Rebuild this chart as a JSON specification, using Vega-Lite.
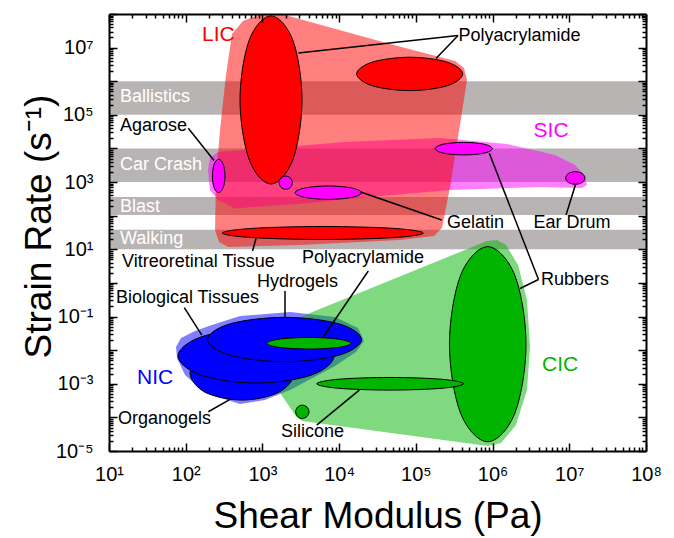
{
  "$schema": "https://vega.github.io/schema/vega-lite/v6.json",
  "width": 537,
  "height": 437,
  "autosize": {"type": "none"},
  "padding": {"left": 109, "top": 14, "right": 28, "bottom": 87},
  "background": "white",
  "config": {"view": {"stroke": null}, "font": "Liberation Sans"},
  "datasets": {
    "bands": [
      {"band": "Ballistics", "low": 1e5, "high": 1e6},
      {"band": "Car Crash", "low": 1e3, "high": 1e4},
      {"band": "Blast", "low": 105, "high": 360},
      {"band": "Walking", "low": 10, "high": 38}
    ],
    "regions": [
      {"class": "SIC", "k": 1, "modulus": 195, "rate": 2290},
      {"class": "SIC", "k": 2, "modulus": 207, "rate": 5220},
      {"class": "SIC", "k": 3, "modulus": 264, "rate": 7870},
      {"class": "SIC", "k": 4, "modulus": 930, "rate": 9660},
      {"class": "SIC", "k": 5, "modulus": 11900, "rate": 15600},
      {"class": "SIC", "k": 6, "modulus": 207000, "rate": 20500},
      {"class": "SIC", "k": 7, "modulus": 1540000, "rate": 13600},
      {"class": "SIC", "k": 8, "modulus": 6520000, "rate": 6410},
      {"class": "SIC", "k": 9, "modulus": 11900000, "rate": 3230},
      {"class": "SIC", "k": 10, "modulus": 16000000, "rate": 1520},
      {"class": "SIC", "k": 11, "modulus": 17000000, "rate": 820},
      {"class": "SIC", "k": 12, "modulus": 14700000, "rate": 667},
      {"class": "SIC", "k": 13, "modulus": 4150000, "rate": 715},
      {"class": "SIC", "k": 14, "modulus": 279000, "rate": 582},
      {"class": "SIC", "k": 15, "modulus": 13900, "rate": 321},
      {"class": "SIC", "k": 16, "modulus": 3090, "rate": 228},
      {"class": "SIC", "k": 17, "modulus": 439, "rate": 165},
      {"class": "SIC", "k": 18, "modulus": 264, "rate": 293},
      {"class": "SIC", "k": 19, "modulus": 207, "rate": 582},
      {"class": "LIC", "k": 1, "modulus": 401, "rate": 2.56e7},
      {"class": "LIC", "k": 2, "modulus": 558, "rate": 6.23e7},
      {"class": "LIC", "k": 3, "modulus": 876, "rate": 9.4e7},
      {"class": "LIC", "k": 4, "modulus": 1970, "rate": 9.4e7},
      {"class": "LIC", "k": 5, "modulus": 46000, "rate": 1.29e7},
      {"class": "LIC", "k": 6, "modulus": 324000, "rate": 4.02e6},
      {"class": "LIC", "k": 7, "modulus": 424000, "rate": 2.49e6},
      {"class": "LIC", "k": 8, "modulus": 464000, "rate": 1.09e6},
      {"class": "LIC", "k": 9, "modulus": 376000, "rate": 50000},
      {"class": "LIC", "k": 10, "modulus": 279000, "rate": 715},
      {"class": "LIC", "k": 11, "modulus": 219000, "rate": 43},
      {"class": "LIC", "k": 12, "modulus": 172000, "rate": 24.9},
      {"class": "LIC", "k": 13, "modulus": 62200, "rate": 18.9},
      {"class": "LIC", "k": 14, "modulus": 3090, "rate": 13.4},
      {"class": "LIC", "k": 15, "modulus": 356, "rate": 11.7},
      {"class": "LIC", "k": 16, "modulus": 272, "rate": 16.5},
      {"class": "LIC", "k": 17, "modulus": 241, "rate": 37.5},
      {"class": "LIC", "k": 18, "modulus": 248, "rate": 1150},
      {"class": "LIC", "k": 19, "modulus": 280, "rate": 35500},
      {"class": "LIC", "k": 20, "modulus": 335, "rate": 1.54e6},
      {"class": "NIC", "k": 1, "modulus": 74.7, "rate": 0.01237},
      {"class": "NIC", "k": 2, "modulus": 86.8, "rate": 0.0229},
      {"class": "NIC", "k": 3, "modulus": 132, "rate": 0.037},
      {"class": "NIC", "k": 4, "modulus": 220, "rate": 0.0558},
      {"class": "NIC", "k": 5, "modulus": 510, "rate": 0.1035},
      {"class": "NIC", "k": 6, "modulus": 2290, "rate": 0.136},
      {"class": "NIC", "k": 7, "modulus": 8840, "rate": 0.0966},
      {"class": "NIC", "k": 8, "modulus": 17600, "rate": 0.0455},
      {"class": "NIC", "k": 9, "modulus": 21100, "rate": 0.01866},
      {"class": "NIC", "k": 10, "modulus": 16600, "rate": 0.00878},
      {"class": "NIC", "k": 11, "modulus": 8840, "rate": 0.00336},
      {"class": "NIC", "k": 12, "modulus": 2290, "rate": 0.000649},
      {"class": "NIC", "k": 13, "modulus": 1080, "rate": 0.000327},
      {"class": "NIC", "k": 14, "modulus": 510, "rate": 0.000249},
      {"class": "NIC", "k": 15, "modulus": 178, "rate": 0.000529},
      {"class": "NIC", "k": 16, "modulus": 97.9, "rate": 0.00182},
      {"class": "NIC", "k": 17, "modulus": 77, "rate": 0.00582},
      {"class": "CIC", "k": 1, "modulus": 987, "rate": 0.0281},
      {"class": "CIC", "k": 2, "modulus": 4170, "rate": 0.1271},
      {"class": "CIC", "k": 3, "modulus": 847000, "rate": 17.7},
      {"class": "CIC", "k": 4, "modulus": 1140000, "rate": 18.9},
      {"class": "CIC", "k": 5, "modulus": 1500000, "rate": 13.4},
      {"class": "CIC", "k": 6, "modulus": 2150000, "rate": 3.41},
      {"class": "CIC", "k": 7, "modulus": 2810000, "rate": 0.31},
      {"class": "CIC", "k": 8, "modulus": 3080000, "rate": 0.01263},
      {"class": "CIC", "k": 9, "modulus": 2810000, "rate": 0.000649},
      {"class": "CIC", "k": 10, "modulus": 2020000, "rate": 5.9e-5},
      {"class": "CIC", "k": 11, "modulus": 1290000, "rate": 1.72e-5},
      {"class": "CIC", "k": 12, "modulus": 872000, "rate": 1.4e-5},
      {"class": "CIC", "k": 13, "modulus": 3280, "rate": 7.76e-5},
      {"class": "CIC", "k": 14, "modulus": 2740, "rate": 0.000109},
      {"class": "CIC", "k": 15, "modulus": 1700, "rate": 0.000529}
    ],
    "ellipses": [
      {"id": "E01", "class": "LIC", "material": "Polyacrylamide", "k": 0, "modulus": 3280, "rate": 278000},
      {"id": "E01", "class": "LIC", "material": "Polyacrylamide", "k": 1, "modulus": 2500, "rate": 1.63e7},
      {"id": "E01", "class": "LIC", "material": "Polyacrylamide", "k": 2, "modulus": 1290, "rate": 8.77e7},
      {"id": "E01", "class": "LIC", "material": "Polyacrylamide", "k": 3, "modulus": 670, "rate": 1.63e7},
      {"id": "E01", "class": "LIC", "material": "Polyacrylamide", "k": 4, "modulus": 510, "rate": 278000},
      {"id": "E01", "class": "LIC", "material": "Polyacrylamide", "k": 5, "modulus": 670, "rate": 4740},
      {"id": "E01", "class": "LIC", "material": "Polyacrylamide", "k": 6, "modulus": 1290, "rate": 878},
      {"id": "E01", "class": "LIC", "material": "Polyacrylamide", "k": 7, "modulus": 2500, "rate": 4740},
      {"id": "E02", "class": "LIC", "material": "Polyacrylamide", "k": 0, "modulus": 408000, "rate": 1.65e6},
      {"id": "E02", "class": "LIC", "material": "Polyacrylamide", "k": 1, "modulus": 256000, "rate": 3.7e6},
      {"id": "E02", "class": "LIC", "material": "Polyacrylamide", "k": 2, "modulus": 83200, "rate": 5.18e6},
      {"id": "E02", "class": "LIC", "material": "Polyacrylamide", "k": 3, "modulus": 27000, "rate": 3.7e6},
      {"id": "E02", "class": "LIC", "material": "Polyacrylamide", "k": 4, "modulus": 16900, "rate": 1.65e6},
      {"id": "E02", "class": "LIC", "material": "Polyacrylamide", "k": 5, "modulus": 27000, "rate": 735000},
      {"id": "E02", "class": "LIC", "material": "Polyacrylamide", "k": 6, "modulus": 83200, "rate": 525000},
      {"id": "E02", "class": "LIC", "material": "Polyacrylamide", "k": 7, "modulus": 256000, "rate": 735000},
      {"id": "E03", "class": "LIC", "material": "Vitreoretinal Tissue", "k": 0, "modulus": 125000, "rate": 30.5},
      {"id": "E03", "class": "LIC", "material": "Vitreoretinal Tissue", "k": 1, "modulus": 51800, "rate": 41.9},
      {"id": "E03", "class": "LIC", "material": "Vitreoretinal Tissue", "k": 2, "modulus": 6120, "rate": 47.7},
      {"id": "E03", "class": "LIC", "material": "Vitreoretinal Tissue", "k": 3, "modulus": 725, "rate": 41.9},
      {"id": "E03", "class": "LIC", "material": "Vitreoretinal Tissue", "k": 4, "modulus": 300, "rate": 30.5},
      {"id": "E03", "class": "LIC", "material": "Vitreoretinal Tissue", "k": 5, "modulus": 725, "rate": 22.3},
      {"id": "E03", "class": "LIC", "material": "Vitreoretinal Tissue", "k": 6, "modulus": 6120, "rate": 19.6},
      {"id": "E03", "class": "LIC", "material": "Vitreoretinal Tissue", "k": 7, "modulus": 51800, "rate": 22.3},
      {"id": "E04", "class": "SIC", "material": "Agarose", "k": 0, "modulus": 325, "rate": 1520},
      {"id": "E04", "class": "SIC", "material": "Agarose", "k": 1, "modulus": 308, "rate": 3410},
      {"id": "E04", "class": "SIC", "material": "Agarose", "k": 2, "modulus": 269, "rate": 4770},
      {"id": "E04", "class": "SIC", "material": "Agarose", "k": 3, "modulus": 235, "rate": 3410},
      {"id": "E04", "class": "SIC", "material": "Agarose", "k": 4, "modulus": 223, "rate": 1520},
      {"id": "E04", "class": "SIC", "material": "Agarose", "k": 5, "modulus": 235, "rate": 677},
      {"id": "E04", "class": "SIC", "material": "Agarose", "k": 6, "modulus": 269, "rate": 484},
      {"id": "E04", "class": "SIC", "material": "Agarose", "k": 7, "modulus": 308, "rate": 677},
      {"id": "E05", "class": "SIC", "material": "Unlabelled", "k": 0, "modulus": 2450, "rate": 960},
      {"id": "E05", "class": "SIC", "material": "Unlabelled", "k": 1, "modulus": 2320, "rate": 1320},
      {"id": "E05", "class": "SIC", "material": "Unlabelled", "k": 2, "modulus": 2010, "rate": 1510},
      {"id": "E05", "class": "SIC", "material": "Unlabelled", "k": 3, "modulus": 1750, "rate": 1320},
      {"id": "E05", "class": "SIC", "material": "Unlabelled", "k": 4, "modulus": 1650, "rate": 960},
      {"id": "E05", "class": "SIC", "material": "Unlabelled", "k": 5, "modulus": 1750, "rate": 696},
      {"id": "E05", "class": "SIC", "material": "Unlabelled", "k": 6, "modulus": 2010, "rate": 611},
      {"id": "E05", "class": "SIC", "material": "Unlabelled", "k": 7, "modulus": 2320, "rate": 696},
      {"id": "E06", "class": "SIC", "material": "Gelatin", "k": 0, "modulus": 19600, "rate": 484},
      {"id": "E06", "class": "SIC", "material": "Gelatin", "k": 1, "modulus": 14600, "rate": 667},
      {"id": "E06", "class": "SIC", "material": "Gelatin", "k": 2, "modulus": 7220, "rate": 766},
      {"id": "E06", "class": "SIC", "material": "Gelatin", "k": 3, "modulus": 3570, "rate": 667},
      {"id": "E06", "class": "SIC", "material": "Gelatin", "k": 4, "modulus": 2660, "rate": 484},
      {"id": "E06", "class": "SIC", "material": "Gelatin", "k": 5, "modulus": 3570, "rate": 350},
      {"id": "E06", "class": "SIC", "material": "Gelatin", "k": 6, "modulus": 7220, "rate": 306},
      {"id": "E06", "class": "SIC", "material": "Gelatin", "k": 7, "modulus": 14600, "rate": 350},
      {"id": "E07", "class": "SIC", "material": "Rubbers", "k": 0, "modulus": 995000, "rate": 9860},
      {"id": "E07", "class": "SIC", "material": "Rubbers", "k": 1, "modulus": 774000, "rate": 13400},
      {"id": "E07", "class": "SIC", "material": "Rubbers", "k": 2, "modulus": 421000, "rate": 15200},
      {"id": "E07", "class": "SIC", "material": "Rubbers", "k": 3, "modulus": 229000, "rate": 13400},
      {"id": "E07", "class": "SIC", "material": "Rubbers", "k": 4, "modulus": 178000, "rate": 9860},
      {"id": "E07", "class": "SIC", "material": "Rubbers", "k": 5, "modulus": 229000, "rate": 7250},
      {"id": "E07", "class": "SIC", "material": "Rubbers", "k": 6, "modulus": 421000, "rate": 6410},
      {"id": "E07", "class": "SIC", "material": "Rubbers", "k": 7, "modulus": 774000, "rate": 7250},
      {"id": "E08", "class": "SIC", "material": "Ear Drum", "k": 0, "modulus": 1.6e7, "rate": 1320},
      {"id": "E08", "class": "SIC", "material": "Ear Drum", "k": 1, "modulus": 1.47e7, "rate": 1800},
      {"id": "E08", "class": "SIC", "material": "Ear Drum", "k": 2, "modulus": 1.2e7, "rate": 2040},
      {"id": "E08", "class": "SIC", "material": "Ear Drum", "k": 3, "modulus": 9.74e6, "rate": 1800},
      {"id": "E08", "class": "SIC", "material": "Ear Drum", "k": 4, "modulus": 8.96e6, "rate": 1320},
      {"id": "E08", "class": "SIC", "material": "Ear Drum", "k": 5, "modulus": 9.74e6, "rate": 973},
      {"id": "E08", "class": "SIC", "material": "Ear Drum", "k": 6, "modulus": 1.2e7, "rate": 860},
      {"id": "E08", "class": "SIC", "material": "Ear Drum", "k": 7, "modulus": 1.47e7, "rate": 973},
      {"id": "E09", "class": "NIC", "material": "Organogels", "k": 0, "modulus": 2580, "rate": 0.00208},
      {"id": "E09", "class": "NIC", "material": "Organogels", "k": 1, "modulus": 1640, "rate": 0.0077},
      {"id": "E09", "class": "NIC", "material": "Organogels", "k": 2, "modulus": 542, "rate": 0.01324},
      {"id": "E09", "class": "NIC", "material": "Organogels", "k": 3, "modulus": 179, "rate": 0.0077},
      {"id": "E09", "class": "NIC", "material": "Organogels", "k": 4, "modulus": 114, "rate": 0.00208},
      {"id": "E09", "class": "NIC", "material": "Organogels", "k": 5, "modulus": 179, "rate": 0.000562},
      {"id": "E09", "class": "NIC", "material": "Organogels", "k": 6, "modulus": 542, "rate": 0.000327},
      {"id": "E09", "class": "NIC", "material": "Organogels", "k": 7, "modulus": 1640, "rate": 0.000562},
      {"id": "E10", "class": "NIC", "material": "Biological Tissues", "k": 0, "modulus": 8570, "rate": 0.00668},
      {"id": "E10", "class": "NIC", "material": "Biological Tissues", "k": 1, "modulus": 4310, "rate": 0.0247},
      {"id": "E10", "class": "NIC", "material": "Biological Tissues", "k": 2, "modulus": 825, "rate": 0.0425},
      {"id": "E10", "class": "NIC", "material": "Biological Tissues", "k": 3, "modulus": 158, "rate": 0.0247},
      {"id": "E10", "class": "NIC", "material": "Biological Tissues", "k": 4, "modulus": 79.3, "rate": 0.00668},
      {"id": "E10", "class": "NIC", "material": "Biological Tissues", "k": 5, "modulus": 158, "rate": 0.0018},
      {"id": "E10", "class": "NIC", "material": "Biological Tissues", "k": 6, "modulus": 825, "rate": 0.00105},
      {"id": "E10", "class": "NIC", "material": "Biological Tissues", "k": 7, "modulus": 4310, "rate": 0.0018},
      {"id": "E11", "class": "NIC", "material": "Hydrogels", "k": 0, "modulus": 19600, "rate": 0.0207},
      {"id": "E11", "class": "NIC", "material": "Hydrogels", "k": 1, "modulus": 9930, "rate": 0.0607},
      {"id": "E11", "class": "NIC", "material": "Hydrogels", "k": 2, "modulus": 1940, "rate": 0.0947},
      {"id": "E11", "class": "NIC", "material": "Hydrogels", "k": 3, "modulus": 379, "rate": 0.0607},
      {"id": "E11", "class": "NIC", "material": "Hydrogels", "k": 4, "modulus": 192, "rate": 0.0207},
      {"id": "E11", "class": "NIC", "material": "Hydrogels", "k": 5, "modulus": 379, "rate": 0.00705},
      {"id": "E11", "class": "NIC", "material": "Hydrogels", "k": 6, "modulus": 1940, "rate": 0.00452},
      {"id": "E11", "class": "NIC", "material": "Hydrogels", "k": 7, "modulus": 9930, "rate": 0.00705},
      {"id": "E12", "class": "CIC", "material": "Rubbers", "k": 0, "modulus": 2.73e6, "rate": 0.01498},
      {"id": "E12", "class": "CIC", "material": "Rubbers", "k": 1, "modulus": 1.95e6, "rate": 1.68},
      {"id": "E12", "class": "CIC", "material": "Rubbers", "k": 2, "modulus": 865000, "rate": 11.95},
      {"id": "E12", "class": "CIC", "material": "Rubbers", "k": 3, "modulus": 383000, "rate": 1.68},
      {"id": "E12", "class": "CIC", "material": "Rubbers", "k": 4, "modulus": 274000, "rate": 0.01498},
      {"id": "E12", "class": "CIC", "material": "Rubbers", "k": 5, "modulus": 383000, "rate": 0.000133},
      {"id": "E12", "class": "CIC", "material": "Rubbers", "k": 6, "modulus": 865000, "rate": 1.88e-5},
      {"id": "E12", "class": "CIC", "material": "Rubbers", "k": 7, "modulus": 1.95e6, "rate": 0.000133},
      {"id": "E13", "class": "CIC", "material": "Silicone", "k": 0, "modulus": 416000, "rate": 0.001},
      {"id": "E13", "class": "CIC", "material": "Silicone", "k": 1, "modulus": 218000, "rate": 0.00136},
      {"id": "E13", "class": "CIC", "material": "Silicone", "k": 2, "modulus": 46000, "rate": 0.00154},
      {"id": "E13", "class": "CIC", "material": "Silicone", "k": 3, "modulus": 9720, "rate": 0.00136},
      {"id": "E13", "class": "CIC", "material": "Silicone", "k": 4, "modulus": 5100, "rate": 0.001},
      {"id": "E13", "class": "CIC", "material": "Silicone", "k": 5, "modulus": 9720, "rate": 0.000735},
      {"id": "E13", "class": "CIC", "material": "Silicone", "k": 6, "modulus": 46000, "rate": 0.000649},
      {"id": "E13", "class": "CIC", "material": "Silicone", "k": 7, "modulus": 218000, "rate": 0.000735},
      {"id": "E14", "class": "CIC", "material": "Silicone", "k": 0, "modulus": 4050, "rate": 0.000147},
      {"id": "E14", "class": "CIC", "material": "Silicone", "k": 1, "modulus": 3810, "rate": 0.000202},
      {"id": "E14", "class": "CIC", "material": "Silicone", "k": 2, "modulus": 3310, "rate": 0.000232},
      {"id": "E14", "class": "CIC", "material": "Silicone", "k": 3, "modulus": 2870, "rate": 0.000202},
      {"id": "E14", "class": "CIC", "material": "Silicone", "k": 4, "modulus": 2710, "rate": 0.000147},
      {"id": "E14", "class": "CIC", "material": "Silicone", "k": 5, "modulus": 2870, "rate": 0.000106},
      {"id": "E14", "class": "CIC", "material": "Silicone", "k": 6, "modulus": 3310, "rate": 9.27e-5},
      {"id": "E14", "class": "CIC", "material": "Silicone", "k": 7, "modulus": 3810, "rate": 0.000106},
      {"id": "E15", "class": "CIC", "material": "Polyacrylamide", "k": 0, "modulus": 14200, "rate": 0.01605},
      {"id": "E15", "class": "CIC", "material": "Polyacrylamide", "k": 1, "modulus": 9780, "rate": 0.02126},
      {"id": "E15", "class": "CIC", "material": "Polyacrylamide", "k": 2, "modulus": 4010, "rate": 0.0239},
      {"id": "E15", "class": "CIC", "material": "Polyacrylamide", "k": 3, "modulus": 1640, "rate": 0.02126},
      {"id": "E15", "class": "CIC", "material": "Polyacrylamide", "k": 4, "modulus": 1140, "rate": 0.01605},
      {"id": "E15", "class": "CIC", "material": "Polyacrylamide", "k": 5, "modulus": 1640, "rate": 0.01212},
      {"id": "E15", "class": "CIC", "material": "Polyacrylamide", "k": 6, "modulus": 4010, "rate": 0.01079},
      {"id": "E15", "class": "CIC", "material": "Polyacrylamide", "k": 7, "modulus": 9780, "rate": 0.01212}
    ],
    "leaders": [
      {"label": "Polyacrylamide", "modulus": 2940, "rate": 6.96e6, "modulus2": 355000, "rate2": 2.31e7},
      {"label": "Polyacrylamide", "modulus": 355000, "rate": 2.31e7, "modulus2": 183000, "rate2": 4.71e6},
      {"label": "Agarose", "modulus": 108, "rate": 39900, "modulus2": 234, "rate2": 4390},
      {"label": "Gelatin", "modulus": 217000, "rate": 74.5, "modulus2": 18700, "rate2": 518},
      {"label": "Ear Drum", "modulus": 9.07e6, "rate": 105, "modulus2": 1.2e7, "rate2": 820},
      {"label": "Rubbers", "modulus": 907000, "rate": 7200, "modulus2": 3.97e6, "rate2": 1.26},
      {"label": "Rubbers", "modulus": 3.97e6, "rate": 1.26, "modulus2": 2.28e6, "rate2": 0.681},
      {"label": "Vitreoretinal Tissue", "modulus": 825, "rate": 20.96, "modulus2": 743, "rate2": 8.9},
      {"label": "Polyacrylamide", "modulus": 24000, "rate": 2.26, "modulus2": 6110, "rate2": 0.0234},
      {"label": "Hydrogels", "modulus": 1970, "rate": 0.574, "modulus2": 1970, "rate2": 0.0947},
      {"label": "Biological Tissues", "modulus": 95.9, "rate": 0.183, "modulus2": 162, "rate2": 0.0281},
      {"label": "Organogels", "modulus": 197, "rate": 0.000147, "modulus2": 378, "rate2": 0.000343},
      {"label": "Silicone", "modulus": 5100, "rate": 5.9e-5, "modulus2": 18300, "rate2": 0.000649}
    ],
    "labels": [
      {"label": "Polyacrylamide", "modulus": 360000, "rate": 1.62e7},
      {"label": "Agarose", "modulus": 13.9, "rate": 33900},
      {"label": "Gelatin", "modulus": 255000, "rate": 42.2},
      {"label": "Ear Drum", "modulus": 3.42e6, "rate": 42.2},
      {"label": "Rubbers", "modulus": 4.28e6, "rate": 0.866},
      {"label": "Vitreoretinal Tissue", "modulus": 14.8, "rate": 3.03},
      {"label": "Polyacrylamide", "modulus": 3280, "rate": 3.83},
      {"label": "Hydrogels", "modulus": 850, "rate": 0.771},
      {"label": "Biological Tissues", "modulus": 12.3, "rate": 0.247},
      {"label": "Organogels", "modulus": 13.1, "rate": 6.19e-5},
      {"label": "Silicone", "modulus": 1750, "rate": 2.54e-5}
    ],
    "bandLabels": [
      {"label": "Ballistics", "modulus": 13.9, "rate": 247000},
      {"label": "Car Crash", "modulus": 13.9, "rate": 2290},
      {"label": "Blast", "modulus": 13.9, "rate": 131.5},
      {"label": "Walking", "modulus": 13.9, "rate": 14.4}
    ],
    "classLabels": [
      {"class": "LIC", "modulus": 163, "rate": 1.55e7},
      {"class": "SIC", "modulus": 3.42e6, "rate": 21500},
      {"class": "NIC", "modulus": 23.2, "rate": 0.00098},
      {"class": "CIC", "modulus": 4.41e6, "rate": 0.00244}
    ]
  },
  "resolve": {"axis": {"x": "independent", "y": "independent"}},
  "layer": [
    {
      "data": {"name": "bands"},
      "mark": {"type": "rect", "color": "#b9b4b4"},
      "encoding": {
        "y": {"field": "low", "type": "quantitative", "scale": {"type": "log", "domain": [1e-5, 1e8], "nice": false}, "axis": null},
        "y2": {"field": "high"}
      }
    },
    {
      "data": {"name": "regions"},
      "mark": {"type": "line", "interpolate": "linear-closed", "filled": true, "fillOpacity": 0.5, "strokeWidth": 0, "strokeOpacity": 0},
      "encoding": {
        "x": {
          "field": "modulus", "type": "quantitative",
          "scale": {"type": "log", "domain": [10, 1e8], "nice": false},
          "axis": {
            "orient": "bottom",
            "values": [1e1,2e1,3e1,4e1,5e1,6e1,7e1,8e1,9e1,1e2,2e2,3e2,4e2,5e2,6e2,7e2,8e2,9e2,1e3,2e3,3e3,4e3,5e3,6e3,7e3,8e3,9e3,1e4,2e4,3e4,4e4,5e4,6e4,7e4,8e4,9e4,1e5,2e5,3e5,4e5,5e5,6e5,7e5,8e5,9e5,1e6,2e6,3e6,4e6,5e6,6e6,7e6,8e6,9e6,1e7,2e7,3e7,4e7,5e7,6e7,7e7,8e7,9e7,1e8],
            "labelExpr": "abs(log(datum.value)/LN10 - round(log(datum.value)/LN10)) < 0.01 ? '10' + ['⁰','¹','²','³','⁴','⁵','⁶','⁷','⁸','⁹'][round(log(datum.value)/LN10)] : ''",
            "tickSize": {"condition": {"test": "abs(log(datum.value)/LN10 - round(log(datum.value)/LN10)) < 0.01", "value": -8}, "value": -4},
            "tickColor": "black", "tickWidth": 1.5,
            "domainColor": "black", "domainWidth": 2,
            "labelFont": "Liberation Sans", "labelFontSize": 20, "labelColor": "black", "labelPadding": 21,
            "labelOverlap": false, "labelFlush": false, "labelBound": false,
            "grid": false,
            "title": "Shear Modulus (Pa)", "titleFont": "Liberation Sans", "titleFontSize": 37, "titleFontWeight": "normal", "titleColor": "black",
            "titleBaseline": "alphabetic", "titleY": 76,
            "zindex": 1
          }
        },
        "y": {
          "field": "rate", "type": "quantitative",
          "scale": {"type": "log", "domain": [1e-5, 1e8], "nice": false},
          "axis": {
            "orient": "left",
            "values": [1e-5,2e-5,3e-5,4e-5,5e-5,6e-5,7e-5,8e-5,9e-5,1e-4,2e-4,3e-4,4e-4,5e-4,6e-4,7e-4,8e-4,9e-4,1e-3,2e-3,3e-3,4e-3,5e-3,6e-3,7e-3,8e-3,9e-3,1e-2,2e-2,3e-2,4e-2,5e-2,6e-2,7e-2,8e-2,9e-2,1e-1,2e-1,3e-1,4e-1,5e-1,6e-1,7e-1,8e-1,9e-1,1,2,3,4,5,6,7,8,9,1e1,2e1,3e1,4e1,5e1,6e1,7e1,8e1,9e1,1e2,2e2,3e2,4e2,5e2,6e2,7e2,8e2,9e2,1e3,2e3,3e3,4e3,5e3,6e3,7e3,8e3,9e3,1e4,2e4,3e4,4e4,5e4,6e4,7e4,8e4,9e4,1e5,2e5,3e5,4e5,5e5,6e5,7e5,8e5,9e5,1e6,2e6,3e6,4e6,5e6,6e6,7e6,8e6,9e6,1e7,2e7,3e7,4e7,5e7,6e7,7e7,8e7,9e7,1e8],
            "labelExpr": "(abs(log(datum.value)/LN10 - round(log(datum.value)/LN10)) < 0.01 && abs(round(log(datum.value)/LN10)) % 2 == 1) ? '10' + (round(log(datum.value)/LN10) < 0 ? '⁻' : '') + ['⁰','¹','²','³','⁴','⁵','⁶','⁷','⁸','⁹'][abs(round(log(datum.value)/LN10))] : ''",
            "tickSize": {"condition": {"test": "abs(log(datum.value)/LN10 - round(log(datum.value)/LN10)) < 0.01", "value": -8}, "value": -4},
            "tickColor": "black", "tickWidth": 1.5,
            "domainColor": "black", "domainWidth": 2,
            "labelFont": "Liberation Sans", "labelFontSize": 20, "labelColor": "black", "labelPadding": 24,
            "labelOverlap": false, "labelFlush": false, "labelBound": false,
            "grid": false,
            "title": "Strain Rate (s⁻¹)", "titleFont": "Liberation Sans", "titleFontSize": 37, "titleFontWeight": "normal", "titleColor": "black",
            "titleBaseline": "alphabetic", "titleAngle": 270, "titleAlign": "center", "titleX": -59, "titleY": 212,
            "zindex": 1
          }
        },
        "color": {"field": "class", "type": "nominal", "scale": {"domain": ["LIC", "SIC", "NIC", "CIC"], "range": ["#ff0000", "#ff00ff", "#0000ff", "#00b400"]}, "legend": null},
        "order": {"field": "k", "type": "quantitative"}
      }
    },
    {
      "data": {"name": "ellipses"},
      "mark": {"type": "line", "interpolate": "cardinal-closed", "filled": true, "fillOpacity": 1, "stroke": "black", "strokeWidth": 1},
      "encoding": {
        "x": {
          "field": "modulus", "type": "quantitative",
          "scale": {"type": "log", "domain": [10, 1e8], "nice": false},
          "axis": {
            "orient": "top",
            "values": [1e1,2e1,3e1,4e1,5e1,6e1,7e1,8e1,9e1,1e2,2e2,3e2,4e2,5e2,6e2,7e2,8e2,9e2,1e3,2e3,3e3,4e3,5e3,6e3,7e3,8e3,9e3,1e4,2e4,3e4,4e4,5e4,6e4,7e4,8e4,9e4,1e5,2e5,3e5,4e5,5e5,6e5,7e5,8e5,9e5,1e6,2e6,3e6,4e6,5e6,6e6,7e6,8e6,9e6,1e7,2e7,3e7,4e7,5e7,6e7,7e7,8e7,9e7,1e8],
            "labels": false,
            "tickSize": {"condition": {"test": "abs(log(datum.value)/LN10 - round(log(datum.value)/LN10)) < 0.01", "value": -8}, "value": -4},
            "tickColor": "black", "tickWidth": 1.5,
            "domainColor": "black", "domainWidth": 2,
            "grid": false, "title": null, "zindex": 1
          }
        },
        "y": {
          "field": "rate", "type": "quantitative",
          "scale": {"type": "log", "domain": [1e-5, 1e8], "nice": false},
          "axis": {
            "orient": "right",
            "values": [1e-5,2e-5,3e-5,4e-5,5e-5,6e-5,7e-5,8e-5,9e-5,1e-4,2e-4,3e-4,4e-4,5e-4,6e-4,7e-4,8e-4,9e-4,1e-3,2e-3,3e-3,4e-3,5e-3,6e-3,7e-3,8e-3,9e-3,1e-2,2e-2,3e-2,4e-2,5e-2,6e-2,7e-2,8e-2,9e-2,1e-1,2e-1,3e-1,4e-1,5e-1,6e-1,7e-1,8e-1,9e-1,1,2,3,4,5,6,7,8,9,1e1,2e1,3e1,4e1,5e1,6e1,7e1,8e1,9e1,1e2,2e2,3e2,4e2,5e2,6e2,7e2,8e2,9e2,1e3,2e3,3e3,4e3,5e3,6e3,7e3,8e3,9e3,1e4,2e4,3e4,4e4,5e4,6e4,7e4,8e4,9e4,1e5,2e5,3e5,4e5,5e5,6e5,7e5,8e5,9e5,1e6,2e6,3e6,4e6,5e6,6e6,7e6,8e6,9e6,1e7,2e7,3e7,4e7,5e7,6e7,7e7,8e7,9e7,1e8],
            "labels": false,
            "tickSize": {"condition": {"test": "abs(log(datum.value)/LN10 - round(log(datum.value)/LN10)) < 0.01", "value": -8}, "value": -4},
            "tickColor": "black", "tickWidth": 1.5,
            "domainColor": "black", "domainWidth": 2,
            "grid": false, "title": null, "zindex": 1
          }
        },
        "color": {"field": "class", "type": "nominal", "scale": {"domain": ["LIC", "SIC", "NIC", "CIC"], "range": ["#ff0000", "#ff00ff", "#0000ff", "#00b400"]}, "legend": null},
        "detail": {"field": "id", "type": "nominal"},
        "order": {"field": "k", "type": "quantitative"}
      }
    },
    {
      "data": {"name": "leaders"},
      "mark": {"type": "rule", "color": "black", "strokeWidth": 1.5},
      "encoding": {
        "x": {"field": "modulus", "type": "quantitative", "scale": {"type": "log", "domain": [10, 1e8], "nice": false}, "axis": null},
        "y": {"field": "rate", "type": "quantitative", "scale": {"type": "log", "domain": [1e-5, 1e8], "nice": false}, "axis": null},
        "x2": {"field": "modulus2"},
        "y2": {"field": "rate2"}
      }
    },
    {
      "data": {"name": "labels"},
      "mark": {"type": "text", "align": "left", "baseline": "alphabetic", "font": "Liberation Sans", "fontSize": 18, "color": "black"},
      "encoding": {
        "x": {"field": "modulus", "type": "quantitative", "scale": {"type": "log", "domain": [10, 1e8], "nice": false}, "axis": null},
        "y": {"field": "rate", "type": "quantitative", "scale": {"type": "log", "domain": [1e-5, 1e8], "nice": false}, "axis": null},
        "text": {"field": "label"}
      }
    },
    {
      "data": {"name": "bandLabels"},
      "mark": {"type": "text", "align": "left", "baseline": "alphabetic", "font": "Liberation Sans", "fontSize": 18, "color": "white"},
      "encoding": {
        "x": {"field": "modulus", "type": "quantitative", "scale": {"type": "log", "domain": [10, 1e8], "nice": false}, "axis": null},
        "y": {"field": "rate", "type": "quantitative", "scale": {"type": "log", "domain": [1e-5, 1e8], "nice": false}, "axis": null},
        "text": {"field": "label"}
      }
    },
    {
      "data": {"name": "classLabels"},
      "mark": {"type": "text", "align": "left", "baseline": "alphabetic", "font": "Liberation Sans", "fontSize": 21},
      "encoding": {
        "x": {"field": "modulus", "type": "quantitative", "scale": {"type": "log", "domain": [10, 1e8], "nice": false}, "axis": null},
        "y": {"field": "rate", "type": "quantitative", "scale": {"type": "log", "domain": [1e-5, 1e8], "nice": false}, "axis": null},
        "text": {"field": "class"},
        "color": {"field": "class", "type": "nominal", "scale": {"domain": ["LIC", "SIC", "NIC", "CIC"], "range": ["#ff0000", "#ff00ff", "#0000ff", "#00b400"]}, "legend": null}
      }
    }
  ]
}
